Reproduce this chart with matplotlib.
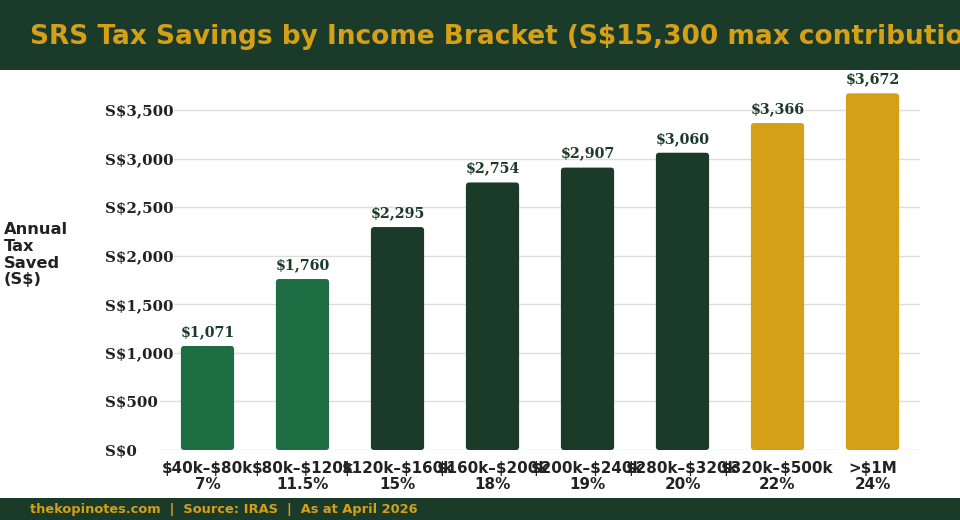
import matplotlib.pyplot as plt
from matplotlib.patches import FancyBboxPatch, Rectangle

# data
brackets = ["$40k–$80k", "$80k–$120k", "$120k–$160k", "$160k–$200k",
            "$200k–$240k", "$280k–$320k", "$320k–$500k", ">$1M"]
rates = ["7%", "11.5%", "15%", "18%", "19%", "20%", "22%", "24%"]
savings = [1071, 1760, 2295, 2754, 2907, 3060, 3366, 3672]
yticks = [0, 500, 1000, 1500, 2000, 2500, 3000, 3500]

DARK = "#1a3a2a"
GREEN = "#1f6e43"
GOLD = "#d4a017"
bar_colors = [GREEN, GREEN, DARK, DARK, DARK, DARK, GOLD, GOLD]

plt.rcParams["text.parse_math"] = False

W, H = 960, 520
fig = plt.figure(figsize=(W / 100, H / 100), dpi=100)
fig.patch.set_facecolor("white")

# axes placed in pixel terms
left, right, bottom, top = 160, 920, 450, 72
ax = fig.add_axes([left / W, 1 - bottom / H, (right - left) / W, (bottom - top) / H])
ymax = (bottom - top) / ((450 - 110) / 3500)
ax.set_ylim(0, ymax)
ax.set_xlim(-0.5, len(savings) - 0.5)

# rounded bars
bw = 0.56
px_x = (right - left) / len(savings)
px_y = (bottom - top) / ymax
aspect = px_x / px_y
for i, (v, c) in enumerate(zip(savings, bar_colors)):
    p = FancyBboxPatch((i - bw / 2, 0), bw, v,
                       boxstyle="round,pad=0,rounding_size=0.035",
                       mutation_aspect=aspect, fc=c, ec="none", zorder=3)
    ax.add_patch(p)
    ax.annotate(f"${v:,}", (i, v), xytext=(0, 5), textcoords="offset points",
                ha="center", va="bottom", fontsize=10.3, fontweight="bold",
                family="DejaVu Serif", color=DARK, zorder=4)

ax.set_yticks(yticks)
ax.set_yticklabels([f"S${t:,}" for t in yticks])
for lab in ax.get_yticklabels():
    lab.set_ha("left")
    lab.set_family("DejaVu Serif")
    lab.set_fontweight("bold")
    lab.set_fontsize(10.8)
    lab.set_color("#222222")
    lab.set_bbox(dict(fc="white", ec="none", pad=0.5))
ax.tick_params(axis="y", length=0, pad=55 * 0.72)

ax.set_xticks(range(len(savings)))
ax.set_xticklabels([f"{b}\n{r}" for b, r in zip(brackets, rates)],
                   fontsize=10.9, fontweight="bold", color="#222222",
                   linespacing=1.1)
ax.tick_params(axis="x", length=0, pad=8)

ax.grid(axis="y", color="#dddddd", linewidth=1, zorder=0)
ax.set_axisbelow(True)
for s in ax.spines.values():
    s.set_visible(False)

fig.text(4 / W, 1 - 222 / H, "Annual\nTax\nSaved\n(S$)", ha="left", va="top",
         fontsize=11.7, fontweight="bold", color="#222222", linespacing=1.15)

# header and footer bands
fig.patches.append(Rectangle((0, 1 - 70 / H), 1, 70 / H, transform=fig.transFigure,
                             fc=DARK, ec="none", zorder=5))
fig.patches.append(Rectangle((0, 0), 1, 22 / H, transform=fig.transFigure,
                             fc=DARK, ec="none", zorder=5))
fig.text(30 / W, 1 - 37 / H, "SRS Tax Savings by Income Bracket (S$15,300 max contribution)",
         ha="left", va="center", fontsize=19, fontweight="bold", color=GOLD, zorder=6)
fig.text(30 / W, 11 / H, "thekopinotes.com  |  Source: IRAS  |  As at April 2026",
         ha="left", va="center", fontsize=9.4, fontweight="bold", color=GOLD, zorder=6)

fig.savefig("out.png", dpi=100, facecolor="white")
